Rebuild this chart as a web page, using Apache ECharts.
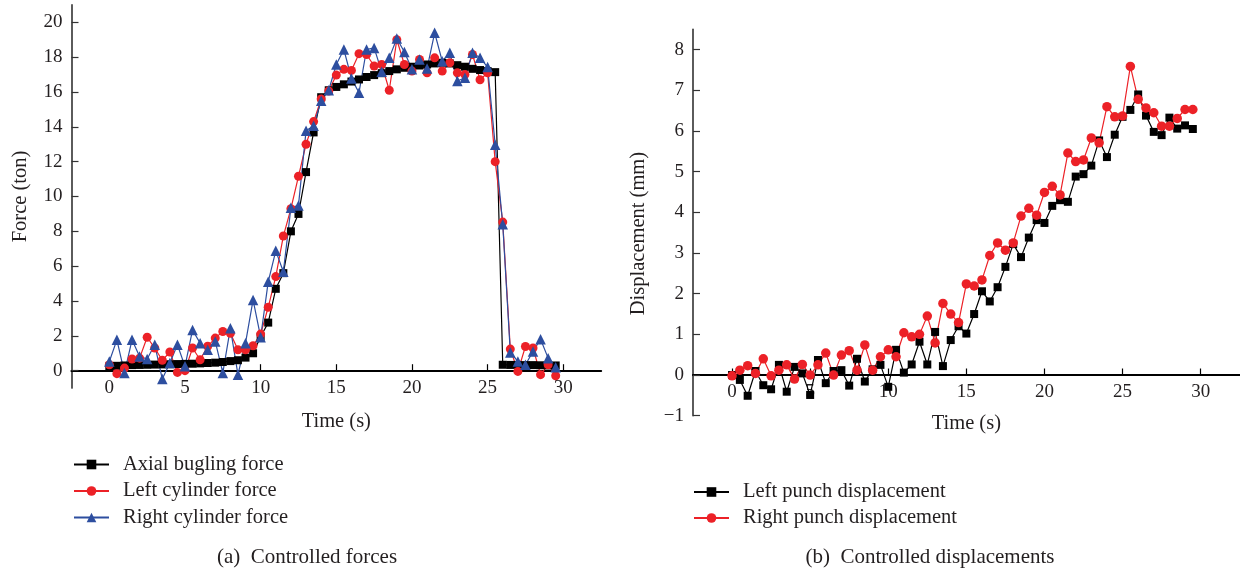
<!DOCTYPE html>
<html>
<head>
<meta charset="utf-8">
<script src="https://cdn.jsdelivr.net/npm/echarts@6/dist/echarts.min.js"></script>
<style>
  html, body { margin: 0; padding: 0; background: #fff; }
  #chart { width: 1240px; height: 571px; }
</style>
</head>
<body>
<div id="chart"></div>
<script>
// Sampling instants (s), shared by every recorded series
const TIME = [
  0, 0.5, 1, 1.5, 2, 2.5, 3, 3.5, 4, 4.5, 5, 5.5, 6, 6.5, 7, 7.5, 8, 8.5, 9, 9.5,
  10, 10.5, 11, 11.5, 12, 12.5, 13, 13.5, 14, 14.5, 15, 15.5, 16, 16.5, 17, 17.5, 18, 18.5, 19, 19.5,
  20, 20.5, 21, 21.5, 22, 22.5, 23, 23.5, 24, 24.5, 25, 25.5, 26, 26.5, 27, 27.5, 28, 28.5, 29, 29.5
];

// (a) forces, ton
const AXIAL_FORCE = [
  0.25, 0.28, 0.30, 0.32, 0.33, 0.34, 0.35, 0.36, 0.37, 0.38, 0.39, 0.40, 0.42, 0.44, 0.46, 0.50, 0.55, 0.60, 0.75, 1.00,
  1.95, 2.76, 4.70, 5.60, 8.00, 9.00, 11.40, 13.68, 15.70, 16.10, 16.29, 16.44, 16.60, 16.72, 16.86, 16.97, 17.08, 17.20, 17.30, 17.39,
  17.45, 17.52, 17.58, 17.64, 17.68, 17.64, 17.54, 17.45, 17.33, 17.26, 17.20, 17.14, 0.34, 0.33, 0.33, 0.32, 0.32, 0.31, 0.30, 0.30
];
const LEFT_CYL_FORCE = [
  0.34, -0.17, 0.15, 0.67, 0.72, 1.92, 1.30, 0.60, 1.07, -0.10, 0.00, 1.30, 0.63, 1.40, 1.87, 2.25, 2.15, 1.20, 1.20, 1.43,
  2.10, 3.64, 5.40, 7.73, 9.30, 11.16, 13.00, 14.30, 15.60, 16.06, 16.97, 17.30, 17.24, 18.20, 18.15, 17.49, 17.58, 16.10, 19.00, 17.58,
  17.20, 17.87, 17.10, 17.96, 17.20, 17.68, 17.10, 17.00, 18.15, 16.70, 17.10, 12.00, 8.53, 1.24, -0.04, 1.39, 1.30, -0.23, 0.34, -0.29
];
const RIGHT_CYL_FORCE = [
  0.53, 1.77, -0.13, 1.77, 0.82, 0.67, 1.49, -0.48, 0.44, 1.49, 0.25, 2.34, 1.58, 1.20, 1.68, -0.13, 2.44, -0.23, 1.58, 4.06,
  1.92, 5.10, 6.88, 5.68, 9.35, 9.49, 13.77, 14.06, 15.50, 16.10, 17.58, 18.44, 16.78, 15.96, 18.44, 18.53, 17.16, 17.96, 19.07, 18.30,
  17.30, 17.87, 17.35, 19.40, 17.77, 18.25, 16.63, 16.82, 18.25, 17.96, 17.43, 12.97, 8.40, 1.05, 0.53, 0.34, 1.10, 1.81, 0.72, 0.19
];

// (b) displacements, mm
const LEFT_PUNCH_DISP = [
  0.00, -0.12, -0.51, 0.10, -0.25, -0.35, 0.25, -0.41, 0.20, 0.04, -0.49, 0.37, -0.20, 0.10, 0.12, -0.26, 0.40, -0.16, 0.14, 0.25,
  -0.29, 0.62, 0.06, 0.26, 0.82, 0.26, 1.06, 0.22, 0.86, 1.20, 1.02, 1.50, 2.06, 1.81, 2.16, 2.66, 3.22, 2.90, 3.38, 3.81,
  3.74, 4.16, 4.30, 4.26, 4.88, 4.94, 5.15, 5.77, 5.36, 5.91, 6.35, 6.52, 6.90, 6.38, 5.98, 5.90, 6.33, 6.06, 6.14, 6.05
];
const RIGHT_PUNCH_DISP = [
  -0.02, 0.12, 0.23, 0.04, 0.40, -0.02, 0.12, 0.25, -0.10, 0.26, 0.00, 0.25, 0.54, 0.00, 0.49, 0.60, 0.12, 0.74, 0.12, 0.45,
  0.62, 0.45, 1.04, 0.94, 1.00, 1.45, 0.79, 1.76, 1.50, 1.29, 2.24, 2.19, 2.34, 2.94, 3.25, 3.07, 3.25, 3.91, 4.10, 3.93,
  4.49, 4.64, 4.43, 5.46, 5.25, 5.29, 5.83, 5.71, 6.60, 6.35, 6.37, 7.59, 6.78, 6.57, 6.45, 6.12, 6.12, 6.31, 6.53, 6.53
];

// Tick positions
const TIME_TICKS = [0, 5, 10, 15, 20, 25, 30];
const FORCE_TICKS = [0, 2, 4, 6, 8, 10, 12, 14, 16, 18, 20];
const DISP_TICKS = [-1, 0, 1, 2, 3, 4, 5, 6, 7, 8];

const FONT = "'Liberation Serif', 'DejaVu Serif', serif";
const INK = '#231f20';
const RED = '#ec2127';
const BLUE = '#2d4e9f';

const pairs = (vals) => TIME.map((t, i) => [t, vals[i]]);

// Time axis drawn across the zero line of the value axis (offset lifts it from the grid bottom)
function timeAxis(gridIndex, offset, nameGap) {
  return {
    type: 'value', gridIndex: gridIndex, min: -2.5, max: 32.5, position: 'bottom', offset: offset,
    name: 'Time (s)', nameLocation: 'middle', nameGap: nameGap,
    nameTextStyle: { fontFamily: FONT, fontSize: 20.5, color: INK },
    axisLine: { show: true, onZero: false, lineStyle: { color: '#000', width: 2.2 } },
    axisTick: { show: true, inside: true, length: 6.5, customValues: TIME_TICKS, lineStyle: { color: '#000', width: 1.2 } },
    axisLabel: { customValues: TIME_TICKS, fontFamily: FONT, fontSize: 19, color: INK, margin: 8 },
    splitLine: { show: false }
  };
}

function valueAxis(gridIndex, min, max, ticks, name, nameGap, namePad) {
  return {
    type: 'value', gridIndex: gridIndex, min: min, max: max,
    name: name, nameLocation: 'middle', nameGap: nameGap,
    nameTextStyle: { fontFamily: FONT, fontSize: 20.5, color: INK, padding: namePad },
    axisLine: { show: true, onZero: false, lineStyle: { color: '#333', width: 1.6 } },
    axisTick: { show: true, inside: true, length: 7, customValues: ticks, lineStyle: { color: '#333', width: 1.2 } },
    axisLabel: {
      customValues: ticks, fontFamily: FONT, fontSize: 19, color: INK, margin: 9,
      formatter: (v) => String(v).replace('-', '\u2212')
    },
    splitLine: { show: false }
  };
}

function lineSeries(name, axisIndex, vals, color, symbol, size) {
  return {
    name: name, type: 'line', xAxisIndex: axisIndex, yAxisIndex: axisIndex,
    data: pairs(vals), symbol: symbol, symbolSize: size, showAllSymbol: true,
    lineStyle: { color: color, width: 1.2 },
    itemStyle: { color: color, borderWidth: 0 },
    emphasis: { disabled: true }
  };
}

const legendText = { fontFamily: FONT, fontSize: 20.5, color: INK, padding: [0, 0, 0, 9] };

const option = {
  animation: false,
  backgroundColor: '#fff',
  grid: [
    { left: 71.5, top: 4.9, width: 529.6, height: 383.2, outerBoundsMode: 'none' },
    { left: 693, top: 29.4, width: 546.7, height: 386.3, outerBoundsMode: 'none' }
  ],
  xAxis: [timeAxis(0, -17.4, 40), timeAxis(1, -40.7, 38)],
  yAxis: [
    valueAxis(0, -1, 21, FORCE_TICKS, 'Force (ton)', 40, 0),
    valueAxis(1, -1, 8.5, DISP_TICKS, 'Displacement (mm)', 44, [0, 22, 0, 0])
  ],
  legend: [
    {
      orient: 'vertical', left: 73, top: 454, padding: 0, itemGap: 5.5,
      itemWidth: 35, itemHeight: 12, selectedMode: false,
      data: ['Axial bugling force', 'Left cylinder force', 'Right cylinder force'],
      textStyle: legendText
    },
    {
      orient: 'vertical', left: 693, top: 481.5, padding: 0, itemGap: 5,
      itemWidth: 35, itemHeight: 12, selectedMode: false,
      data: ['Left punch displacement', 'Right punch displacement'],
      textStyle: legendText
    }
  ],
  graphic: [
    { type: 'text', x: 307, y: 557, style: { text: '(a)  Controlled forces', textAlign: 'center', textVerticalAlign: 'middle', fontFamily: FONT, fontSize: 21, fill: INK } },
    { type: 'text', x: 930, y: 557, style: { text: '(b)  Controlled displacements', textAlign: 'center', textVerticalAlign: 'middle', fontFamily: FONT, fontSize: 21, fill: INK } }
  ],
  series: [
    lineSeries('Axial bugling force', 0, AXIAL_FORCE, '#000', 'rect', 8),
    lineSeries('Left cylinder force', 0, LEFT_CYL_FORCE, RED, 'circle', 9),
    lineSeries('Right cylinder force', 0, RIGHT_CYL_FORCE, BLUE, 'triangle', 10.5),
    lineSeries('Left punch displacement', 1, LEFT_PUNCH_DISP, '#000', 'rect', 8),
    lineSeries('Right punch displacement', 1, RIGHT_PUNCH_DISP, RED, 'circle', 9.5)
  ]
};

const chart = echarts.init(document.getElementById('chart'), null, { renderer: 'canvas' });
chart.setOption(option);
</script>
</body>
</html>
